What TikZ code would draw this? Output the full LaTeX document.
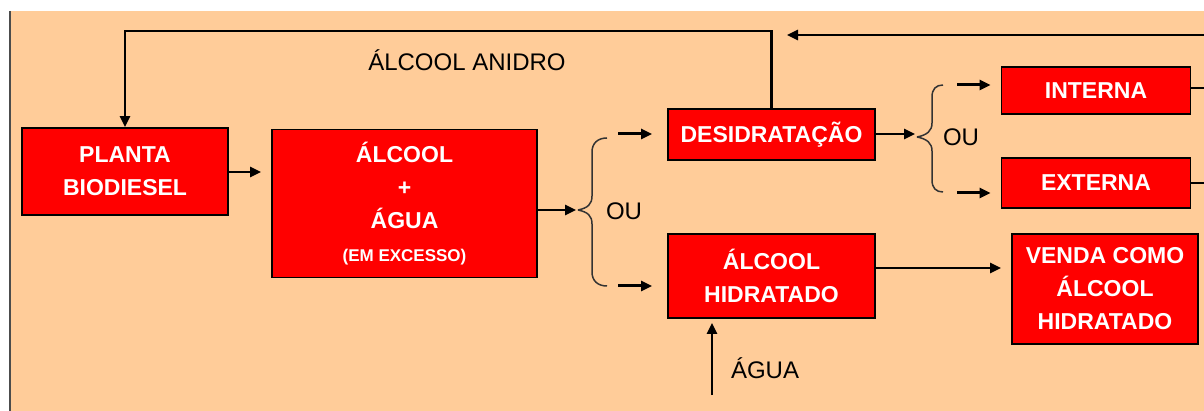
\documentclass[tikz,border=0pt]{standalone}
\usepackage{fontspec}
\setmainfont{Liberation Sans}
\usetikzlibrary{arrows.meta}
\definecolor{peach}{HTML}{FFCC99}
\definecolor{boxred}{HTML}{FF0000}
\tikzset{
  redbox/.style={draw=black, line width=1.8pt, fill=boxred, text=white, align=center,
    font=\bfseries\fontsize{23}{33}\selectfont, inner sep=0pt},
  lbl/.style={text=black, font=\fontsize{24}{28}\selectfont, inner sep=0pt},
  arr/.style={line width=2.5pt, -{Triangle[length=11pt,width=10pt]}},
  conn/.style={line width=2.5pt},
  bracestyle/.style={line width=1.5pt, draw=black!80}
}
\begin{document}
\begin{tikzpicture}[x=1pt,y=-1pt]
\useasboundingbox (0,0) rectangle (1204,411);
\fill[white] (0,0) rectangle (1204,411);
\fill[peach] (10,11) rectangle (1204,411);
\draw[line width=2pt, black!70] (10,11) -- (10,411);

% boxes
\node[redbox, minimum width=206pt, minimum height=87pt] (planta) at (125,171.5) {PLANTA\\BIODIESEL};
\node[redbox, minimum width=265pt, minimum height=148pt] (mix) at (404.5,203.5)
  {ÁLCOOL\\+\\ÁGUA\\{\fontsize{17}{20}\selectfont (EM EXCESSO)}};
\node[redbox, minimum width=207pt, minimum height=51pt] (desid) at (771.5,134.5) {DESIDRATAÇÃO};
\node[redbox, minimum width=207pt, minimum height=84pt] (hidr) at (771.5,276) {ÁLCOOL\\HIDRATADO};
\node[redbox, minimum width=189pt, minimum height=47pt] (interna) at (1096,90.5) {INTERNA};
\node[redbox, minimum width=189pt, minimum height=50pt] (externa) at (1096,183) {EXTERNA};
\node[redbox, minimum width=186pt, minimum height=110pt] (venda) at (1105,289) {VENDA COMO\\ÁLCOOL\\HIDRATADO};

% labels
\node[lbl] (anidro) at (467,60) {ÁLCOOL ANIDRO};
\node[lbl] (ou1) at (624,211) {OU};
\node[lbl] (ou2) at (961,137) {OU};
\node[lbl] (agua) at (765,368) {ÁGUA};

% coordinates
\coordinate (b1) at (576,210);
\coordinate (b2) at (915,134);
\coordinate (aguasrc) at (712,395);
\coordinate (ret) at (1204,35);
\coordinate (retend) at (787,35);
\coordinate (intout) at (1204,88);
\coordinate (extout) at (1204,183);

% braces
\draw[bracestyle] (578,210) .. controls (588,208) and (592,204) .. (592,196) -- (592,152)
  .. controls (592,143) and (598,138) .. (607,138);
\draw[bracestyle] (578,210) .. controls (588,212) and (592,216) .. (592,224) -- (592,272)
  .. controls (592,281) and (598,286) .. (607,286);
\draw[bracestyle] (917,137) .. controls (927,135) and (932,131) .. (932,123) -- (932,97)
  .. controls (932,89) and (936,85) .. (943,85);
\draw[bracestyle] (917,137) .. controls (927,139) and (932,143) .. (932,151) -- (932,180)
  .. controls (932,188) and (936,192) .. (943,192);

% connectors
\draw[arr, shorten >=10pt] (planta.east |- 0,172) -- (mix.west |- 0,172);
\draw[arr] (mix.east |- b1) -- (b1);
\draw[arr, line width=3pt, shorten >=15pt] (618,134) -- (desid.west |- 0,134);
\draw[arr, line width=3pt, shorten >=15pt] (618,286) -- (hidr.west |- 0,286);
\draw[arr] (desid.east |- b2) -- (b2);
\draw[arr, line width=3pt, shorten >=10pt] (957,85) -- (interna.west |- 0,85);
\draw[arr, line width=3pt, shorten >=10pt] (957,193) -- (externa.west |- 0,193);
\draw[arr, shorten >=10pt] (hidr.east |- 0,268) -- (venda.west |- 0,268);
\draw[arr, shorten >=4pt] (aguasrc) -- (aguasrc |- hidr.south);
\draw[arr] (desid.north) -- (desid.north |- 0,31) -- (planta.north |- 0,31) -- (planta.north);
\draw[arr] (ret) -- (retend);
\draw[conn] (interna.east |- intout) -- (intout);
\draw[conn] (externa.east |- extout) -- (extout);
\end{tikzpicture}
\end{document}
